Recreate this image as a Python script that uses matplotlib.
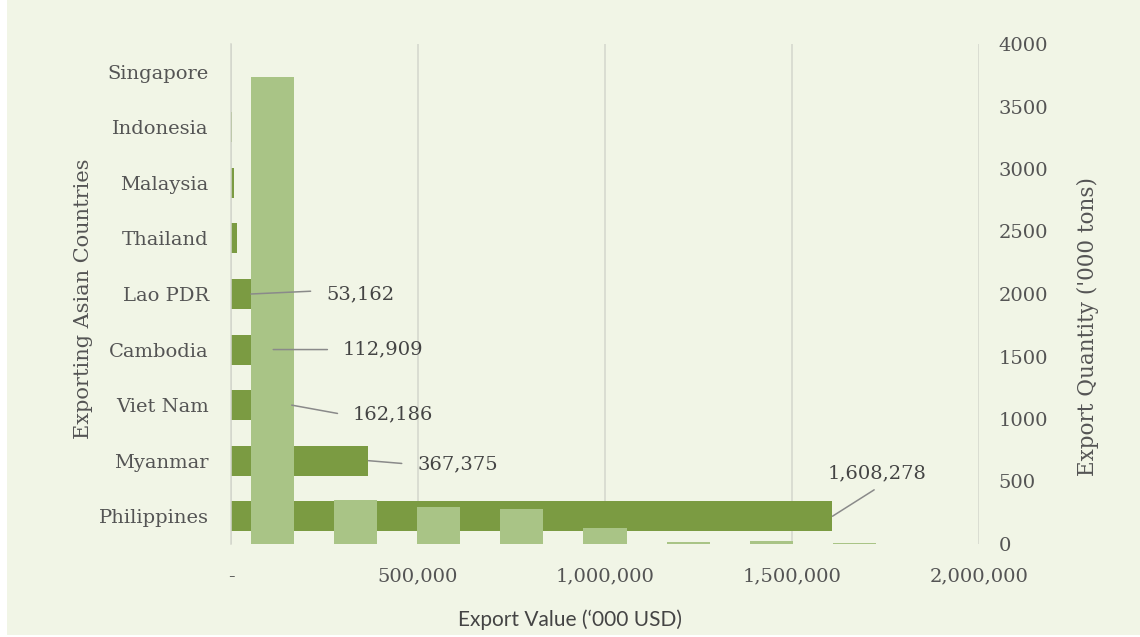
import numpy as np
import matplotlib.pyplot as plt
from matplotlib.ticker import FuncFormatter

# export value by country ('000 USD), bottom row first
countries = ["Philippines", "Myanmar", "Viet Nam", "Cambodia", "Lao PDR",
             "Thailand", "Malaysia", "Indonesia", "Singapore"]
export_value = [1608278, 367375, 162186, 112909, 53162, 16000, 8000, 4000, 500]
labelled = [True, True, True, True, True, False, False, False, False]

# export quantity ('000 tons), one column per slot along the bottom
quantity = [3740, 354, 298, 282, 129, 16, 25, 10, 4]

x_ticks = [0, 500000, 1000000, 1500000, 2000000]
q_ticks = np.arange(0, 4001, 500)

BG = "#f1f5e6"
DARK = "#7b9b42"
LIGHT = "#a9c486"
GREY = "#545454"
GRID = "#d3d6cc"
serif = "DejaVu Serif"

fig = plt.figure(figsize=(11.4, 6.37), dpi=100)
fig.patch.set_facecolor("white")
fig.patches.append(plt.Rectangle((7 / 1140, 2 / 637), 1, 1, transform=fig.transFigure,
                                 facecolor=BG, edgecolor="none", zorder=-10))

rect = [231 / 1140, 1 - 544 / 637, 748 / 1140, 500 / 637]
ax = fig.add_axes(rect)
ax.set_facecolor("none")
ypos = np.arange(len(countries))
ax.barh(ypos, export_value, height=0.54, color=DARK, zorder=2)
ax.set_xlim(0, 2000000)
ax.set_ylim(-0.5, len(countries) - 0.5)
ax.set_xticks(x_ticks)
ax.xaxis.set_major_formatter(FuncFormatter(lambda v, p: "-" if v == 0 else f"{v:,.0f}"))
ax.set_yticks(ypos)
ax.set_yticklabels(countries)
ax.grid(axis="x", color=GRID, lw=1.1, zorder=0)
ax.tick_params(length=0, colors=GREY, labelsize=14)
ax.tick_params(axis="x", pad=17)
ax.tick_params(axis="y", pad=16)
for lab in ax.get_xticklabels() + ax.get_yticklabels():
    lab.set_family(serif)
for s in ["top", "right", "bottom"]:
    ax.spines[s].set_visible(False)
ax.spines["left"].set_color(GRID)
ax.spines["left"].set_linewidth(1.1)
ax.set_ylabel("Exporting Asian Countries", family=serif, fontsize=15, color=GREY)
ax.yaxis.set_label_coords(-0.185, 0.49)

# quantity bars on their own axes, drawn over the value bars
ax2 = fig.add_axes(rect)
ax2.set_facecolor("none")
ax2.bar(np.arange(len(quantity)), quantity, width=0.52, color=LIGHT, zorder=3)
ax2.set_xlim(-0.5, len(quantity) - 0.5)
ax2.set_ylim(0, 4000)
ax2.set_xticks([])
ax2.set_yticks(q_ticks)
ax2.yaxis.tick_right()
ax2.yaxis.set_label_position("right")
ax2.tick_params(length=0, colors=GREY, labelsize=14, pad=14)
for lab in ax2.get_yticklabels():
    lab.set_family(serif)
for s in ax2.spines.values():
    s.set_visible(False)
ax2.set_ylabel("Export Quantity ('000 tons)", family=serif, fontsize=15.5, color=GREY)
ax2.yaxis.set_label_coords(1.131, 0.434)

# data labels with leader lines (offsets in points from the bar end)
leader_end = [(30, 19), (24, -2), (33, -6), (39, 0), (43, 2)]
text_off = [(32, 31, "center"), (35, -3, "left"), (44, -7, "left"),
            (50, 0, "left"), (54, 0, "left")]
for i, v in enumerate(export_value):
    if not labelled[i]:
        continue
    ax2.annotate("", xy=(v, i), xycoords=ax.transData,
                 xytext=leader_end[i], textcoords="offset points",
                 arrowprops=dict(arrowstyle="-", color="#8a8a8a", lw=1.1,
                                 shrinkA=0, shrinkB=0), zorder=5)
    tx, ty, ha = text_off[i]
    ax2.annotate(f"{v:,}", xy=(v, i), xycoords=ax.transData,
                 xytext=(tx, ty), textcoords="offset points",
                 ha=ha, va="center", family=serif, fontsize=14, color="#444444",
                 zorder=5)

fig.text(0.5, 1 - 620 / 637, "Export Value (\u2018000 USD)", ha="center", va="center",
         family="Lato", fontsize=15, color="#444444")

fig.savefig("out.png", dpi=100, facecolor=fig.get_facecolor())
